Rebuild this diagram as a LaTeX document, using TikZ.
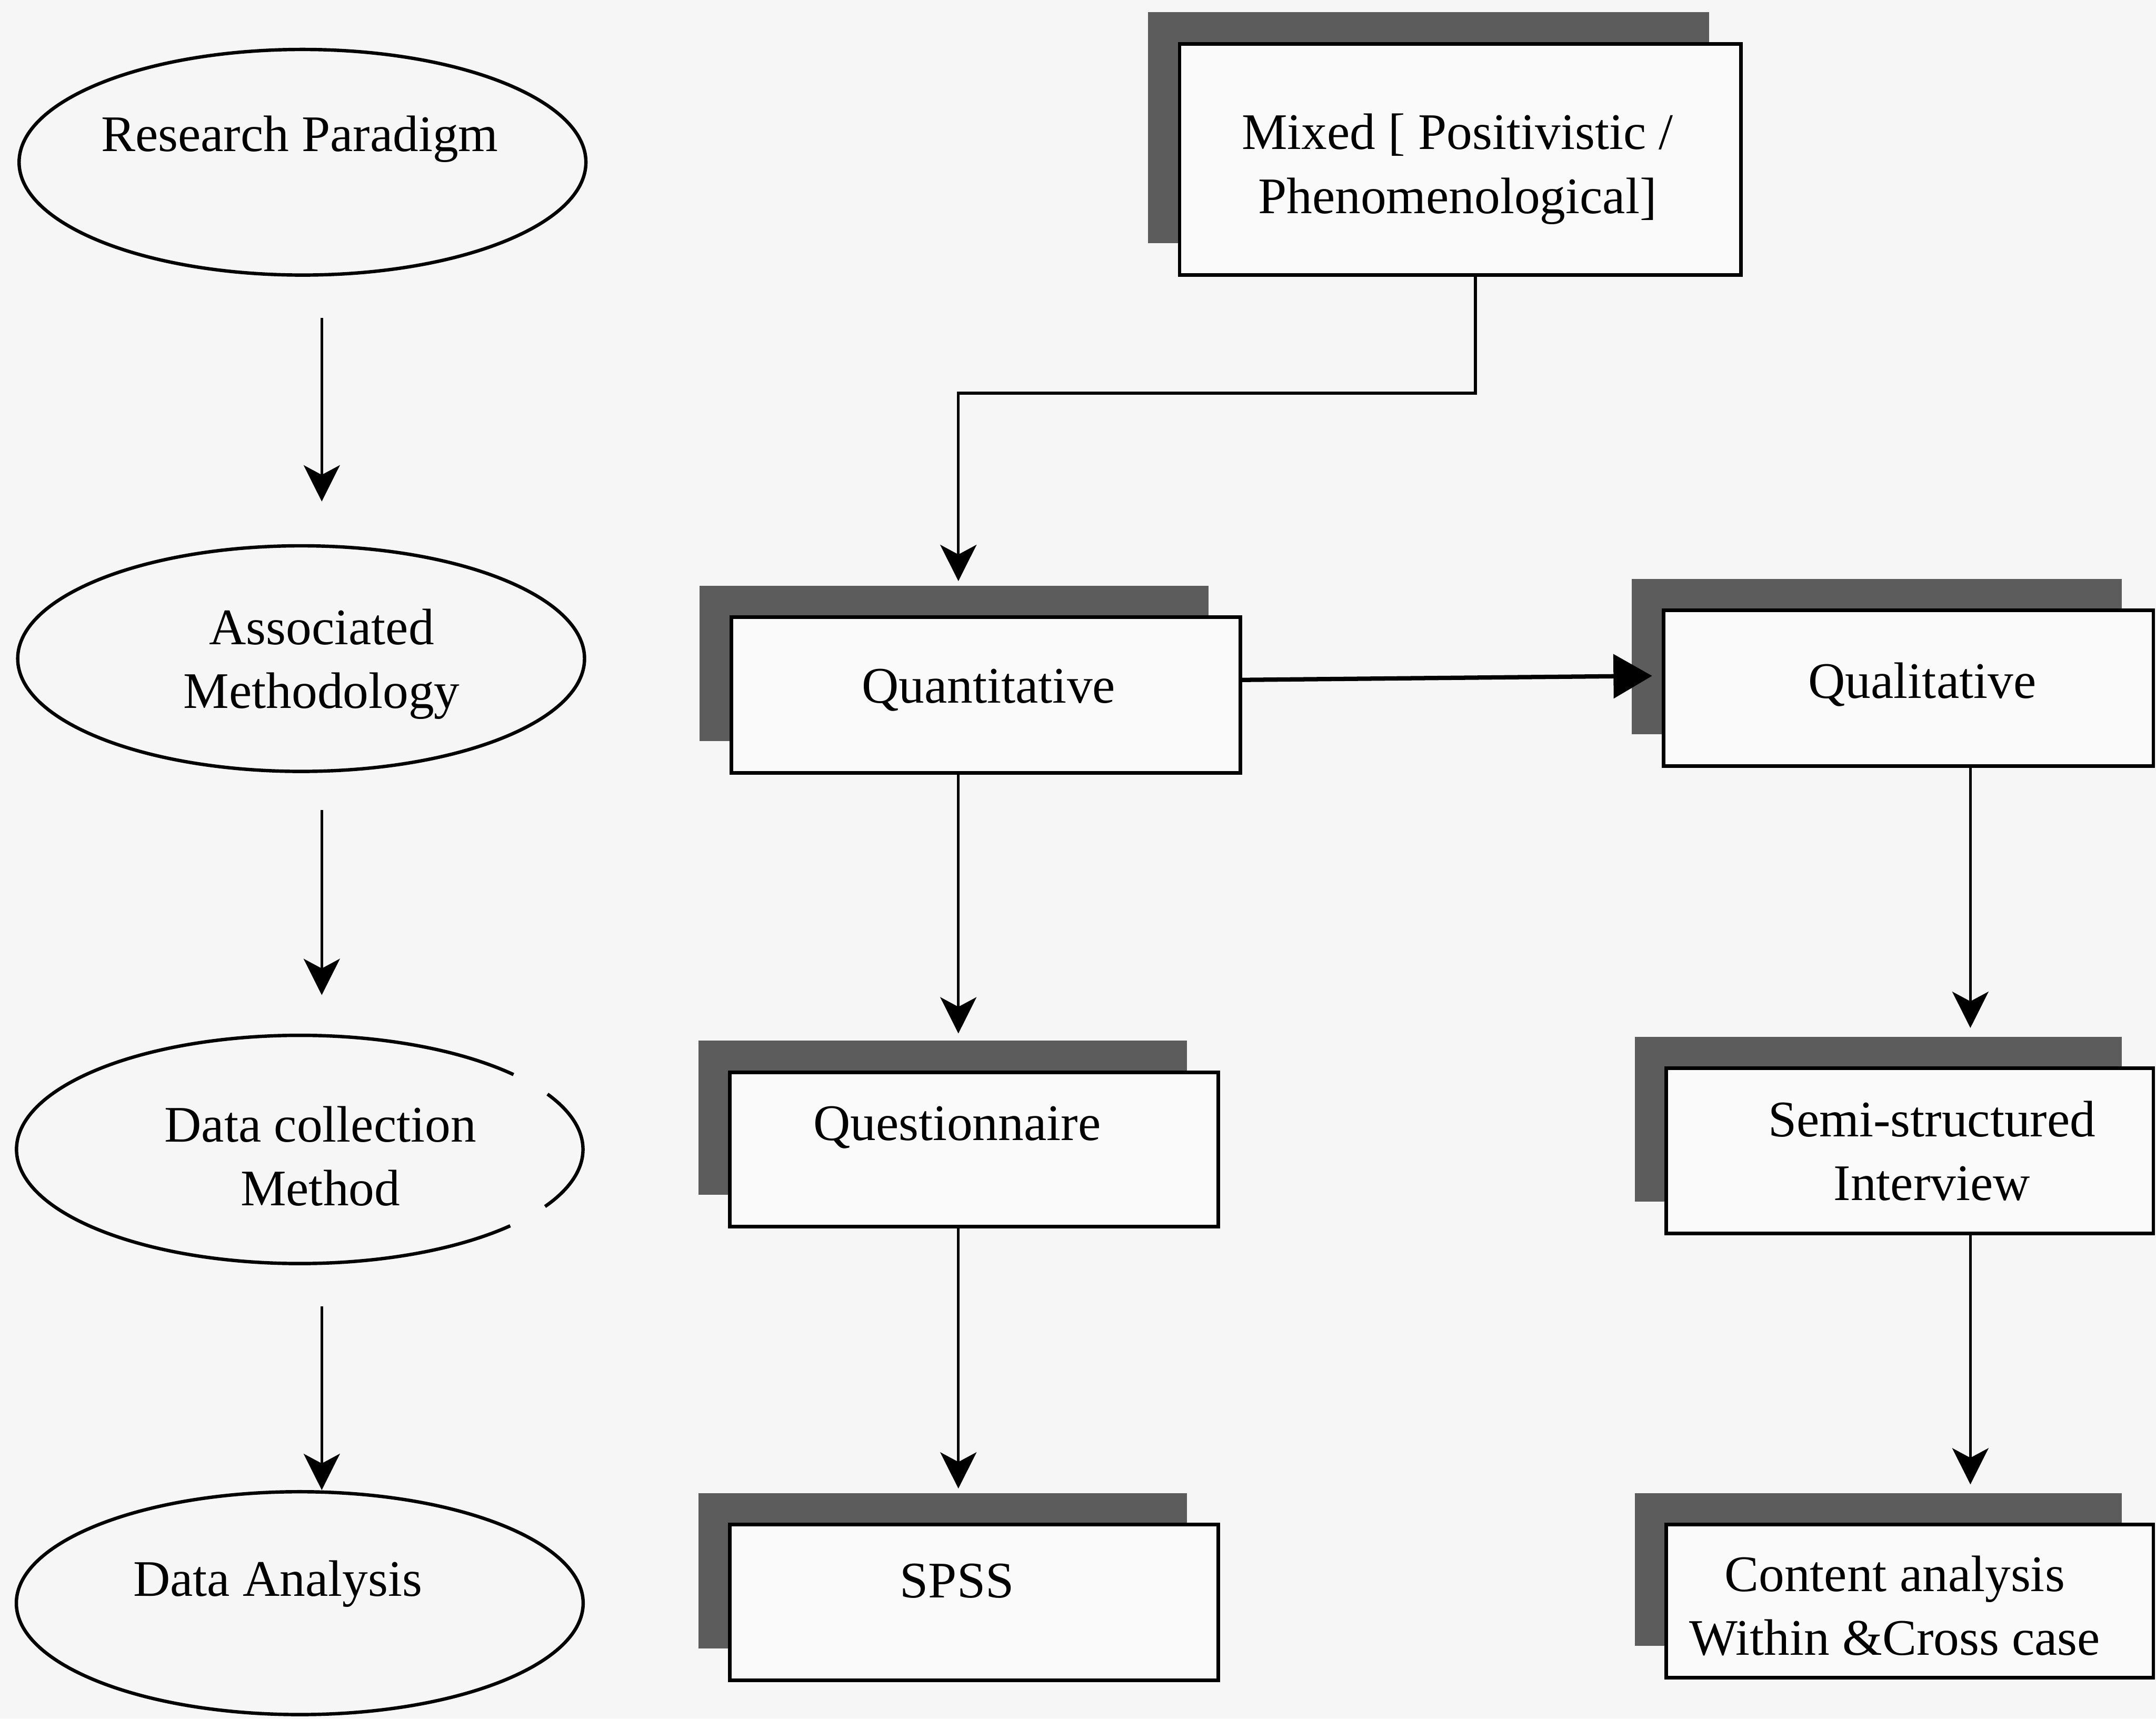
\documentclass[tikz,border=0pt]{standalone}
\usepackage{fontspec}
\setmainfont{Liberation Serif}
\usetikzlibrary{shapes.geometric,arrows.meta,shadows}
\definecolor{bg}{RGB}{246,246,246}
\definecolor{shadowgray}{RGB}{92,92,92}
\definecolor{boxfill}{RGB}{250,250,250}
\begin{document}
\begin{tikzpicture}[x=0.01cm,y=-0.01cm,
  ell/.style={ellipse, draw, line width=0.7pt, minimum width=4.12cm, inner sep=0pt},
  fbox/.style={rectangle, draw, line width=0.75pt, fill=boxfill, inner sep=0pt,
    general shadow={fill=shadowgray, shadow xshift=-0.23cm, shadow yshift=0.23cm}},
  txt/.style={font=\fontsize{10.6}{13.2}\selectfont, align=center, inner sep=0pt},
  conn/.style={line width=0.5pt},
  arr/.style={conn, -{Stealth[length=7.5pt,width=7.5pt,inset=2pt]}},
  harr/.style={line width=0.9pt, -{Triangle[length=8pt,width=9pt]}}]

\fill[bg] (0,0) rectangle (1568,1250);
\useasboundingbox (0,0) rectangle (1568,1250);

% left column: ellipses
\node[ell, minimum height=1.64cm] (e1) at (220,118) {};
\node[ell, minimum height=1.64cm] (e2) at (219,479) {};
\node[ell, draw=none, minimum height=1.66cm] (e3) at (218,836) {};
\draw[line width=0.7pt] (e3.center) ++(42:206 and 83) arc[start angle=42, end angle=319, x radius=206, y radius=83];
\draw[line width=0.7pt] (e3.center) ++(-29:206 and 83) arc[start angle=-29, end angle=30, x radius=206, y radius=83];
\node[ell, minimum height=1.62cm] (e4) at (218,1166) {};

\node[txt] (t1) at (218,101) {Research Paradigm};
\node[txt] (t2) at (234,483) {Associated\\Methodology};
\node[txt] (t3) at (233,841) {Data collection\\Method};
\node[txt] (t4) at (202,1152) {Data Analysis};

\coordinate (ax) at (234,0);
\draw[arr, shorten <=0.3cm, shorten >=0.31cm] (e1.south -| ax) -- (e2.north -| ax);
\draw[arr, shorten <=0.27cm, shorten >=0.28cm] (e2.south -| ax) -- (e3.north -| ax);
\draw[arr, shorten <=0.3cm] (e3.south -| ax) -- (e4.north -| ax);

% boxes
\node[fbox, minimum width=4.08cm, minimum height=1.68cm] (mixed) at (1062,116) {};
\node[txt] (tm) at (1060,123) {Mixed [ Positivistic /\\Phenomenological]};

\node[fbox, minimum width=3.70cm, minimum height=1.13cm] (quant) at (717,505.5) {};
\node[txt] (tq) at (719,502) {Quantitative};

\node[fbox, minimum width=3.56cm, minimum height=1.13cm] (qual) at (1388,500.5) {};
\node[txt] (tl) at (1398,498) {Qualitative};

\node[fbox, minimum width=3.55cm, minimum height=1.12cm] (quest) at (708.5,836) {};
\node[txt] (tqu) at (696,820) {Questionnaire};

\node[fbox, minimum width=3.54cm, minimum height=1.20cm] (semi) at (1389,837) {};
\node[txt] (ts) at (1405,837) {Semi-structured\\Interview};

\node[fbox, minimum width=3.55cm, minimum height=1.13cm] (spss) at (708.5,1165.5) {};
\node[txt] (tsp) at (696,1150) {SPSS};

\node[fbox, minimum width=3.54cm, minimum height=1.11cm] (content) at (1389,1164.5) {};
\node[txt] (tc) at (1378,1168) {Content analysis\\Within \&Cross case};

% connectors
\coordinate (k1) at (1073,286);
\coordinate (k2) at (697,286);
\coordinate (k3) at (1433,0);
\draw[arr, line width=0.6pt, shorten >=0.25cm] (mixed.south -| k1) -- (k1) -- (k2) -- (quant.north -| k2);
\draw[arr, shorten >=0.27cm] (quant.south -| k2) -- (quest.north -| k2);
\draw[arr, shorten >=0.25cm] (quest.south -| k2) -- (spss.north -| k2);
\draw[arr, shorten >=0.28cm] (qual.south -| k3) -- (semi.north -| k3);
\draw[arr, shorten >=0.28cm] (semi.south -| k3) -- (content.north -| k3);
\draw[harr, shorten >=0.07cm] ([yshift=0.11cm]quant.east) -- ([yshift=0.09cm]qual.west);
\end{tikzpicture}
\end{document}
